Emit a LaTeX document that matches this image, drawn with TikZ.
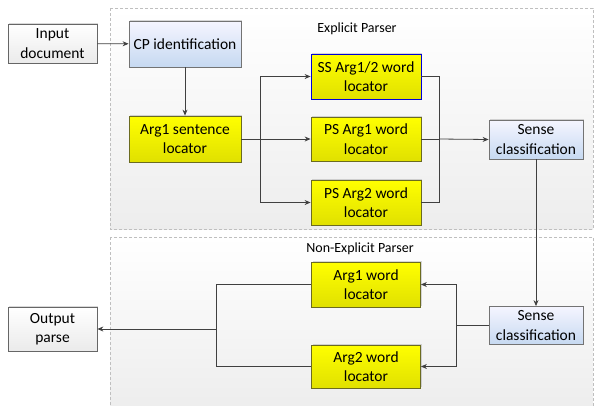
\documentclass[tikz,border=0pt]{standalone}
\usepackage{fontspec}
\setmainfont{Carlito}
\usetikzlibrary{arrows.meta,shadows}
\definecolor{linec}{HTML}{404040}
\definecolor{yelbord}{HTML}{6B6B20}
\tikzset{
  box/.style={draw=linec!80, line width=0.8pt, align=center, inner sep=1pt,
    font=\fontsize{15.5}{19.5}\selectfont,
    drop shadow={shadow xshift=1pt, shadow yshift=1pt, opacity=0.25, fill=black!60}},
  yel/.style={box, top color=yellow, bottom color=yellow!88!black, draw=yelbord},
  blu/.style={box, top color=blue!4!white, bottom color={rgb,255:red,198;green,217;blue,241}, draw=black!55},
  gry/.style={box, top color=white, bottom color=black!8, draw=black!60},
  panel/.style={draw=black!25, densely dashed, line width=0.5pt, top color=white, bottom color=black!7},
  conn/.style={draw=linec, line width=0.8pt},
  arr/.style={conn, -{Stealth[length=6pt,width=5pt]}},
  plabel/.style={font=\fontsize{14}{16}\selectfont}
}
\begin{document}
\begin{tikzpicture}[x=1pt,y=-1pt]
\useasboundingbox (0,0) rectangle (595,405);
% panels
\path[panel] (110,8) rectangle (593,229);
\path[panel] (110,237) rectangle (593,410);
\node[plabel] (lexp) at (357,29) {Explicit Parser};
\node[plabel] (lnon) at (360,249) {Non-Explicit Parser};
% nodes
\node[gry, minimum width=89pt, minimum height=39pt] (in) at (52.5,43.5) {Input\\document};
\node[blu, minimum width=112pt, minimum height=46pt] (cp) at (185,44) {CP identification};
\node[yel, minimum width=112pt, minimum height=46pt] (a1s) at (185,139) {Arg1 sentence\\locator};
\node[yel, draw=blue!85!black, minimum width=110pt, minimum height=45pt] (ss) at (366,76.5) {SS Arg1/2 word\\locator};
\node[yel, minimum width=110pt, minimum height=44pt] (ps1) at (366,139) {PS Arg1 word\\locator};
\node[yel, minimum width=110pt, minimum height=45pt] (ps2) at (366,202.5) {PS Arg2 word\\locator};
\node[blu, minimum width=94pt, minimum height=39pt] (s1) at (536,139.5) {Sense\\classification};
\node[yel, minimum width=109pt, minimum height=45pt] (a1w) at (366,284.5) {Arg1 word\\locator};
\node[yel, minimum width=109pt, minimum height=43pt] (a2w) at (366,366.5) {Arg2 word\\locator};
\node[blu, minimum width=94pt, minimum height=38pt] (s2) at (536,325.5) {Sense\\classification};
\node[gry, minimum width=89pt, minimum height=44pt] (out) at (52.5,329) {Output\\parse};
% coordinates
\coordinate (b1) at (260,139);
\coordinate (m1) at (439,139);
\coordinate (b2) at (456,325.5);
\coordinate (m2) at (216,329);
% connectors
\draw[arr] (in) -- (cp);
\draw[arr] (cp) -- (a1s);
\draw[conn] (a1s.east) -- (b1);
\draw[arr] (b1) |- (ss.west);
\draw[arr] (b1) -- (ps1.west);
\draw[arr] (b1) |- (ps2.west);
\draw[conn] (ss.east) -| (m1);
\draw[conn] (ps2.east) -| (m1);
\draw[conn] (ps1.east) -- (m1);
\draw[arr] (m1) -- (s1.west);
\draw[arr] (s1.south) -- (s2.north);
\draw[conn] (s2.west) -- (b2);
\draw[arr] (b2) |- (a1w.east);
\draw[arr] (b2) |- (a2w.east);
\draw[conn] (a1w.west) -| (m2);
\draw[conn] (a2w.west) -| (m2);
\draw[arr] (m2) -- (out.east);
\end{tikzpicture}
\end{document}
